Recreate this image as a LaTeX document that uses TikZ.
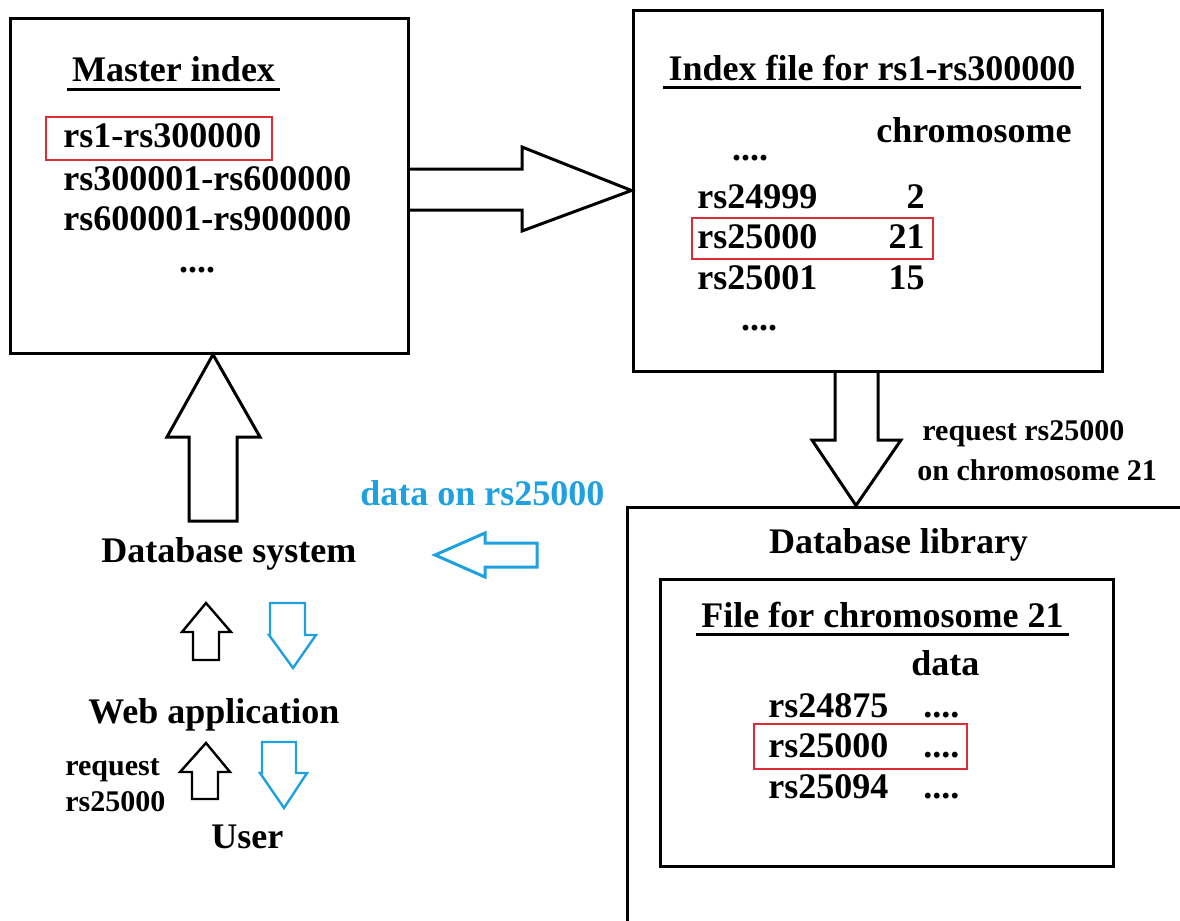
\documentclass[tikz,border=0pt]{standalone}
\usepackage{fontspec}
\setmainfont{Liberation Serif}
\usepackage{tikz}
\usetikzlibrary{positioning,calc}
\definecolor{dbblue}{RGB}{30,160,225}
\definecolor{dbred}{RGB}{220,45,55}

\begin{document}
\begin{tikzpicture}[x=0.5pt, y=-0.5pt, box/.style={draw, line width=1.5pt, inner sep=0pt}, txt/.style={inner sep=0pt, font=\fontsize{18}{21}\selectfont\bfseries}, small/.style={inner sep=0pt, font=\fontsize{15}{18}\selectfont\bfseries}, hdr/.style={inner xsep=2.5pt, inner ysep=3.5pt, font=\fontsize{18}{21}\selectfont\bfseries}, uline/.style={line width=1.5pt}, hilite/.style={draw=dbred, line width=1pt}, barrow/.style={draw, line width=1.5pt, line join=miter}, sarrow/.style={draw, line width=1.2pt, line join=miter}]

\useasboundingbox (0,0) rectangle (1180,921);
\clip (0,0) rectangle (1180,921);

% boxes
\node[box, minimum width=199pt, minimum height=167.5pt] (master) at (209,185.5) {};
\node[box, minimum width=234.5pt, minimum height=180.5pt] (index) at (867.5,190.5) {};
\node[box, minimum width=316.5pt, minimum height=246.5pt] (library) at (943.5,753.5) {};
\node[box, minimum width=226.5pt, minimum height=143.5pt] (chrfile) at (886.5,722.5) {};

% master index
\node[hdr, anchor=base] (mtitle) at (173.5,82) {Master index};
\draw[uline] (mtitle.south west) -- (mtitle.south east);
\node[txt, anchor=base west] (m1) at (63,148) {rs1-rs300000};
\node[txt, anchor=base west] (m2) at (63,190) {rs300001-rs600000};
\node[txt, anchor=base west] (m3) at (63,230) {rs600001-rs900000};
\node[txt, anchor=base] (mdots) at (197,272) {....};
\draw[hilite] (46,117) rectangle (272,160);

% index file
\node[hdr, anchor=base] (ititle) at (872,80) {Index file for rs1-rs300000};
\draw[uline] (ititle.south west) -- (ititle.south east);
\node[txt, anchor=base east] (ichr) at (1072,142) {chromosome};
\node[txt, anchor=base] (idots1) at (750,160) {....};
\node[txt, anchor=base west] (i1) at (697,208) {rs24999};
\node[txt, anchor=base east] (c1) at (925,208) {2};
\node[txt, anchor=base west] (i2) at (697,248) {rs25000};
\node[txt, anchor=base east] (c2) at (925,248) {21};
\node[txt, anchor=base west] (i3) at (697,289) {rs25001};
\node[txt, anchor=base east] (c3) at (925,289) {15};
\node[txt, anchor=base] (idots2) at (759,330) {....};
\draw[hilite] (692,218) rectangle (933,259);

% database library
\node[txt, anchor=base] (ltitle) at (898.5,553) {Database library};
\node[hdr, anchor=base] (ftitle) at (882.5,627) {File for chromosome 21};
\draw[uline] (ftitle.south west) -- (ftitle.south east);
\node[txt, anchor=base west] (fdata) at (911,675) {data};
\node[txt, anchor=base west] (f1) at (768,717) {rs24875};
\node[txt, anchor=base west] (d1) at (923,717) {....};
\node[txt, anchor=base west] (f2) at (768,757) {rs25000};
\node[txt, anchor=base west] (d2) at (923,757) {....};
\node[txt, anchor=base west] (f3) at (768,798) {rs25094};
\node[txt, anchor=base west] (d3) at (923,798) {....};
\draw[hilite] (754,724) rectangle (967,769);

% left column
\node[txt, anchor=base west] (dbsys) at (101,562) {Database system};
\node[txt, anchor=base west] (webapp) at (88,723) {Web application};
\node[txt, anchor=base west] (user) at (211,848) {User};
\node[small, anchor=base west] (req1) at (65,775) {request};
\node[small, anchor=base west] (req2) at (65,811) {rs25000};
\node[txt, anchor=base west, text=dbblue] (dataon) at (360,505) {data on rs25000};
\node[small, anchor=base west] (reqa) at (922,440) {request rs25000};
\node[small, anchor=base west] (reqb) at (917,480) {on chromosome 21};

% block arrows
\draw[barrow] (408,169) -- (522,169) -- (522,147) -- (index.west) -- (522,231) -- (522,210) -- (408,210);
\draw[barrow] (835,371) -- (835,440) -- (812,440) -- (library.north -| 856,0) -- (901,440) -- (878,440) -- (878,371);
\draw[barrow] (189,521) -- (189,437) -- (167,437) -- (master.south -| 213,0) -- (260,437) -- (237,437) -- (237,521) -- cycle;
\draw[barrow, draw=dbblue] (537,543) -- (485,543) -- (485,533) -- (435,555) -- (485,577) -- (485,567) -- (537,567) -- cycle;

\draw[sarrow] (193,660) -- (193,632) -- (182,632) -- (206,603) -- (231,632) -- (219,632) -- (219,660) -- cycle;
\draw[sarrow, draw=dbblue] (270,603) -- (305,603) -- (305,635) -- (316,635) -- (293,668) -- (269,635) -- (270,635) -- cycle;
\draw[sarrow] (192,799) -- (192,772) -- (180,772) -- (206,743) -- (230,772) -- (218,772) -- (218,799) -- cycle;
\draw[sarrow, draw=dbblue] (262,742) -- (296,742) -- (296,773) -- (307,773) -- (284,808) -- (260,773) -- (262,773) -- cycle;
\end{tikzpicture}
\end{document}
